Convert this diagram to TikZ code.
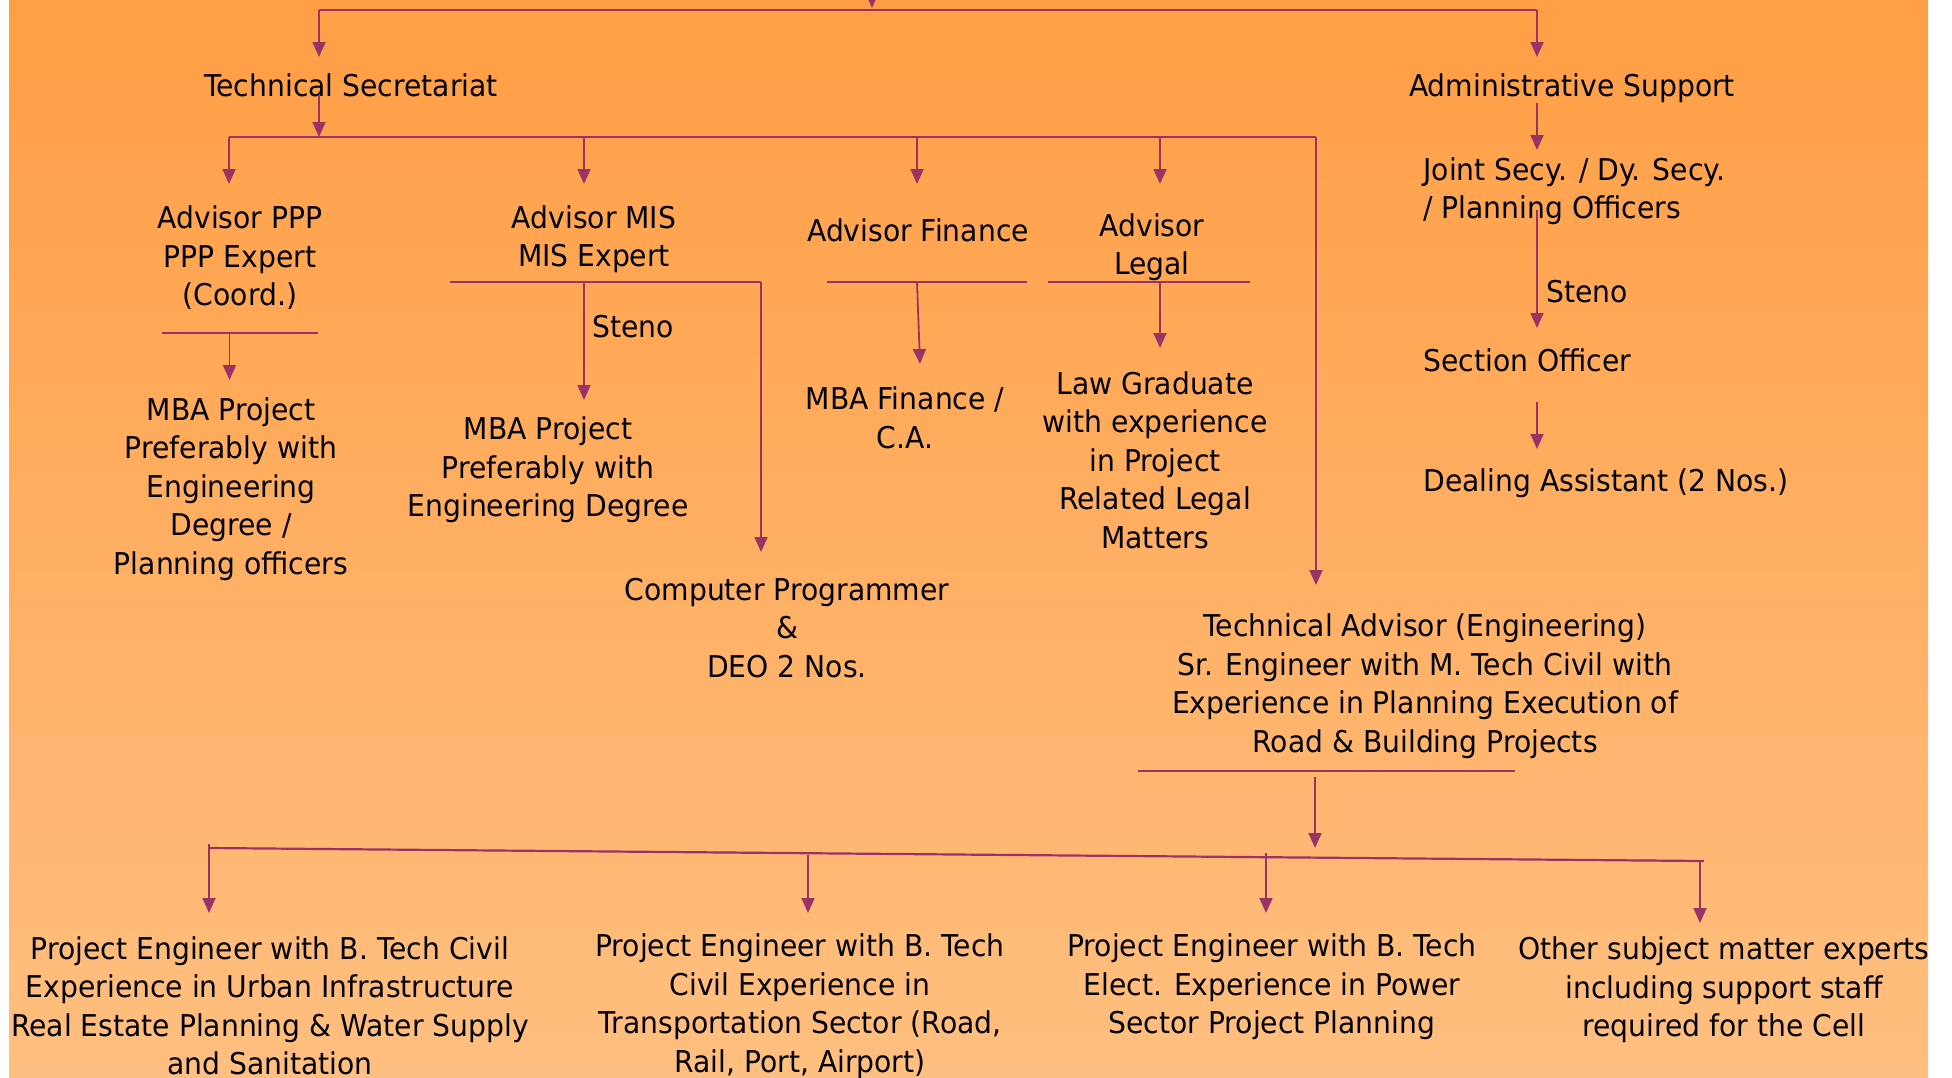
\documentclass[tikz,border=0pt]{standalone}
\usepackage{fontspec}
\setmainfont{DejaVu Sans}[FakeStretch=0.94]
\usetikzlibrary{arrows.meta}
\definecolor{ln}{HTML}{993366}
\definecolor{bgtop}{HTML}{FF9E45}
\definecolor{bgbot}{HTML}{FFBF80}
\begin{document}
\begin{tikzpicture}[x=0.5pt,y=-0.5pt,
  txt/.style={font=\fontsize{15}{19.25}\selectfont, align=center, inner sep=0pt, text=black},
  ltxt/.style={txt, align=left, anchor=west},
  conn/.style={draw=ln, line width=0.9pt},
  arr/.style={conn, -{Triangle[length=7.5pt,width=6.5pt]}}]
\useasboundingbox (0,0) rectangle (1952,1077);
\fill[white] (0,0) rectangle (1952,1077);
\begin{scope}
\clip (9,0) rectangle (1928,1077);
\shade[top color=bgtop, bottom color=bgbot] (9,0) rectangle (1928,1077);

% nodes
\node[txt] (ts) at (351,85) {Technical Secretariat};
\node[txt] (as) at (1572,88) {Administrative Support};
\node[txt] (ppp) at (240,258) {Advisor PPP\\PPP Expert\\(Coord.)};
\node[txt] (mis) at (594,239) {Advisor MIS\\MIS Expert};
\node[txt] (fin) at (918,230) {Advisor Finance};
\node[txt] (leg) at (1152,247) {Advisor\\Legal};
\node[txt] (mba1) at (231,489) {MBA Project\\Preferably with\\Engineering\\Degree /\\Planning officers};
\node[txt] (mba2) at (548,470) {MBA Project\\Preferably with\\Engineering Degree};
\node[txt] (cp) at (787,628) {Computer Programmer\\\&\\DEO 2 Nos.};
\node[txt] (mbaf) at (905,418) {MBA Finance /\\C.A.};
\node[txt] (law) at (1155,460) {Law Graduate\\with experience\\in Project\\Related Legal\\Matters};
\node[ltxt] (jsec) at (1423,191) {Joint Secy. / Dy. Secy.\\/ Planning Officers};
\node[txt] (st1) at (633,327) {Steno};
\node[ltxt] (st2) at (1546,292) {Steno};
\node[ltxt] (so) at (1423,360) {Section Officer};
\node[ltxt] (da) at (1423,483) {Dealing Assistant (2 Nos.)};
\node[txt] (ta) at (1425,686) {Technical Advisor (Engineering)\\Sr. Engineer with M. Tech Civil with\\Experience in Planning Execution of\\Road \& Building Projects};
\node[txt] (pe1) at (270,1006) {Project Engineer with B. Tech Civil\\Experience in Urban Infrastructure\\Real Estate Planning \& Water Supply\\and Sanitation};
\node[txt] (pe2) at (800,1006) {Project Engineer with B. Tech\\Civil Experience in\\Transportation Sector (Road,\\Rail, Port, Airport)};
\node[txt] (pe3) at (1272,987) {Project Engineer with B. Tech\\Elect. Experience in Power\\Sector Project Planning};
\node[txt] (oth) at (1724,990) {Other subject matter experts\\including support staff\\required for the Cell};

% coordinates
\coordinate (topin) at (872,-30);
\coordinate (topmid) at (872,8);
\coordinate (topL) at (319,10);
\coordinate (topR) at (1537,10);
\coordinate (tsin) at (319,57);
\coordinate (asin) at (1537,57);
\coordinate (tsout) at (319,95);
\coordinate (busA) at (319,137);
\coordinate (busL) at (229,137);
\coordinate (busR) at (1316,137);
\coordinate (b2) at (584,137);
\coordinate (b3) at (917,137);
\coordinate (b4) at (1160,137);
\coordinate (pppin) at (229,184);
\coordinate (misin) at (584,184);
\coordinate (finin) at (917,184);
\coordinate (legin) at (1160,184);
\coordinate (tain) at (1316,585);
\coordinate (asout) at (1537,103);
\coordinate (jsin) at (1537,150);
\coordinate (pppL) at (162,333);
\coordinate (pppR) at (318,333);
\coordinate (pppM) at (229.5,333);
\coordinate (mba1in) at (229.5,380);
\coordinate (misL) at (450,282);
\coordinate (misR) at (761,282);
\coordinate (misM) at (584,282);
\coordinate (mba2in) at (584,400);
\coordinate (cpin) at (761,552);
\coordinate (finL) at (827,282);
\coordinate (finR) at (1027,282);
\coordinate (finM) at (917,282);
\coordinate (mbafin) at (920,364);
\coordinate (legL) at (1048,282);
\coordinate (legR) at (1250,282);
\coordinate (legM) at (1160,282);
\coordinate (lawin) at (1160,348);
\coordinate (jsout) at (1537,210);
\coordinate (soin) at (1537,328);
\coordinate (soout) at (1537,402);
\coordinate (dain) at (1537,449);
\coordinate (taL) at (1138,771);
\coordinate (taR) at (1515,771);
\coordinate (taout) at (1315,777);
\coordinate (tabus) at (1315,848);
\coordinate (bbL) at (209,848);
\coordinate (bbR) at (1704,861);
\coordinate (p1) at (209,844);
\coordinate (p2) at (808,855);
\coordinate (p3) at (1266,853);
\coordinate (p4) at (1700,861);
\coordinate (pe1in) at (209,913);
\coordinate (pe2in) at (808,913);
\coordinate (pe3in) at (1266,913);
\coordinate (othin) at (1700,923);

% connectors
\draw[arr] (topin) -- (topmid);
\draw[conn, line width=1.1pt] (topL) -- (topR);
\draw[arr] (topL) -- (tsin);
\draw[arr] (topR) -- (asin);
\draw[arr] (tsout) -- (busA);
\draw[conn, line width=1.1pt] (busL) -- (busR);
\draw[arr] (busL) -- (pppin);
\draw[arr] (b2) -- (misin);
\draw[arr] (b3) -- (finin);
\draw[arr] (b4) -- (legin);
\draw[arr] (busR) -- (tain);
\draw[arr] (asout) -- (jsin);
\draw[conn] (pppL) -- (pppR);
\draw[arr] (pppM) -- (mba1in);
\draw[conn] (misL) -- (misR);
\draw[arr] (misR) -- (cpin);
\draw[arr] (misM) -- (mba2in);
\draw[conn] (finL) -- (finR);
\draw[arr] (finM) -- (mbafin);
\draw[conn] (legL) -- (legR);
\draw[arr] (legM) -- (lawin);
\draw[arr] (jsout) -- (soin);
\draw[arr] (soout) -- (dain);
\draw[conn] (taL) -- (taR);
\draw[arr] (taout) -- (tabus);
\draw[conn, line width=1.1pt] (bbL) -- (bbR);
\draw[arr] (p1) -- (pe1in);
\draw[arr] (p2) -- (pe2in);
\draw[arr] (p3) -- (pe3in);
\draw[arr] (p4) -- (othin);
\end{scope}
\end{tikzpicture}
\end{document}
